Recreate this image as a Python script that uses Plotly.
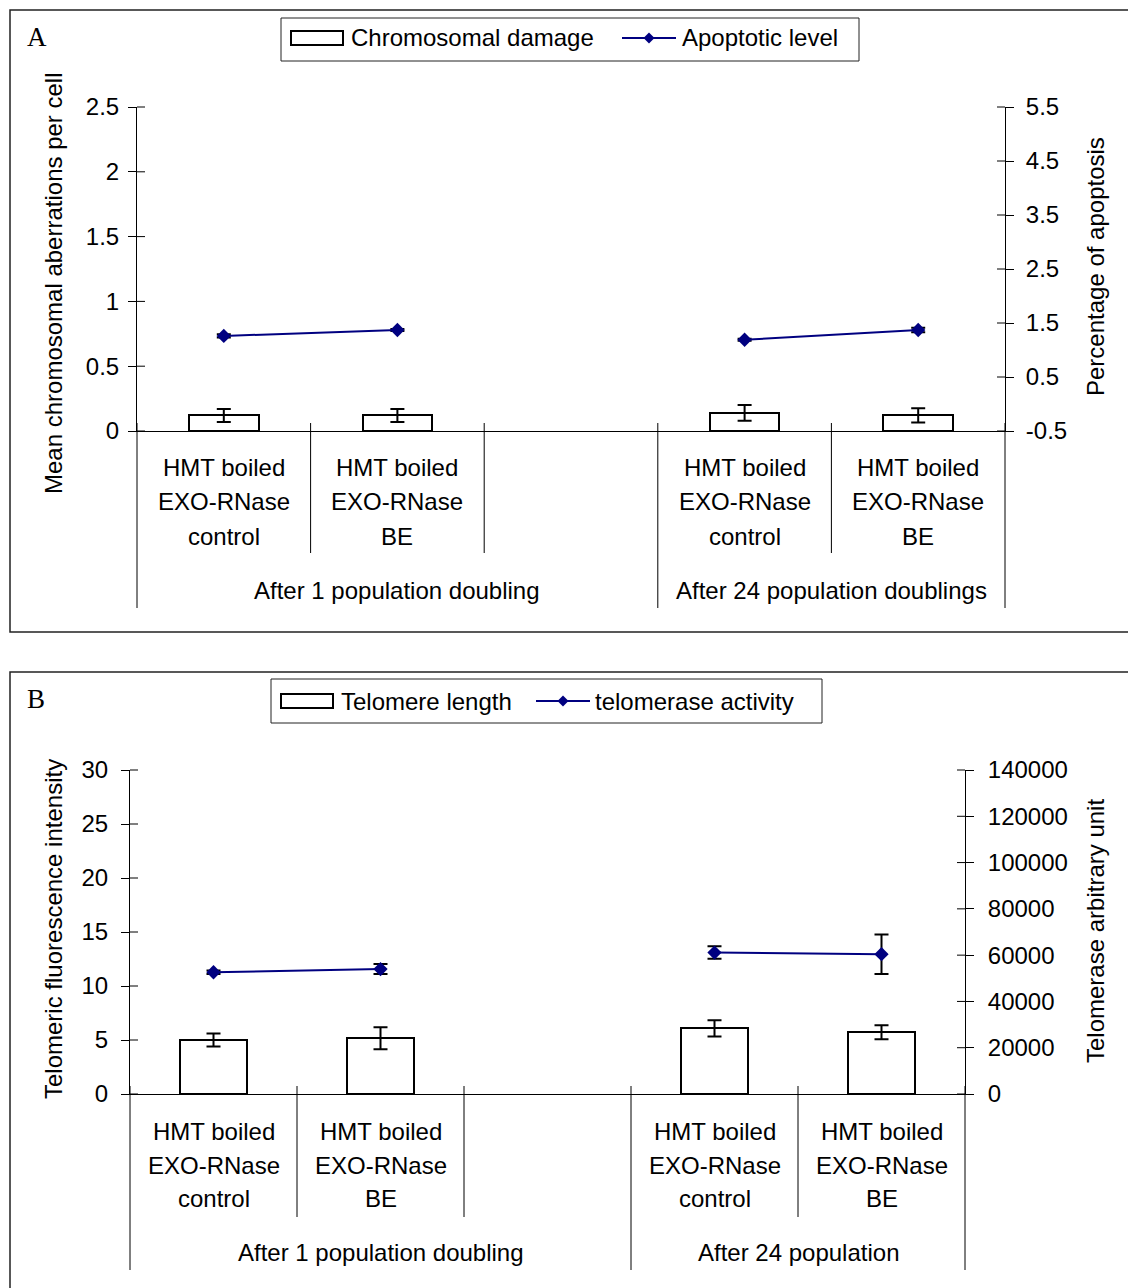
import plotly.graph_objects as go

W, H = 1128, 1288

# ---------------- Panel A: chromosomal damage / apoptosis ----------------
a_categories = [
    "HMT boiled\nEXO-RNase\ncontrol",
    "HMT boiled\nEXO-RNase\nBE",
    "",
    "HMT boiled\nEXO-RNase\ncontrol",
    "HMT boiled\nEXO-RNase\nBE",
]
a_groups = ["After 1 population doubling", "After 24 population doublings"]
a_group_first = [0, 3]
a_group_last = [2, 4]

a_damage = [0.12, 0.12, None, 0.14, 0.12]
a_damage_err = [0.05, 0.05, 0, 0.06, 0.055]
a_apoptosis = [1.26, 1.37, None, 1.19, 1.37]
a_apoptosis_err = [0.03, 0.02, 0, 0.02, 0.04]

a_left_ticks = [0, 0.5, 1, 1.5, 2, 2.5]
a_left_ticktext = ["0", "0.5", "1", "1.5", "2", "2.5"]
a_right_ticks = [-0.5, 0.5, 1.5, 2.5, 3.5, 4.5, 5.5]
a_right_ticktext = ["-0.5", "0.5", "1.5", "2.5", "3.5", "4.5", "5.5"]

# ---------------- Panel B: telomere length / telomerase ----------------
b_categories = list(a_categories)
b_groups = ["After 1 population doubling", "After 24 population"]
b_group_first = [0, 3]
b_group_last = [2, 4]

b_length = [5.0, 5.16, None, 6.08, 5.71]
b_length_err = [0.6, 1.02, 0, 0.75, 0.65]
b_activity = [52600, 54000, None, 61100, 60400]
b_activity_err = [800, 2200, 0, 2700, 8500]

b_left_ticks = [0, 5, 10, 15, 20, 25, 30]
b_left_ticktext = ["0", "5", "10", "15", "20", "25", "30"]
b_right_ticks = [0, 20000, 40000, 60000, 80000, 100000, 120000, 140000]
b_right_ticktext = ["0", "20000", "40000", "60000", "80000", "100000", "120000", "140000"]

FONT = "Arial"
FS = 24
NAVY = "#000080"


def xp(px):
    return px / W


def yp(py):
    return 1 - py / H


fig = go.Figure()
shapes = []
annotations = []


def add_panel(xa, ya_l, ya_r, cats, bars, bars_err, line, line_err,
              groups, g_first, g_last, lticks, lrange, rticks, rrange,
              row_offsets, group_offset, long_drop, short_drop):
    idx = list(range(len(cats)))
    fig.add_trace(go.Bar(
        x=idx, y=bars, width=0.4, xaxis=xa, yaxis=ya_l, showlegend=False,
        marker=dict(color="white", line=dict(color="black", width=2)),
        error_y=dict(type="data", array=bars_err, color="black", thickness=2, width=7),
    ))
    fig.add_trace(go.Scatter(
        x=idx, y=line, xaxis=xa, yaxis=ya_r, mode="lines+markers", showlegend=False,
        line=dict(color=NAVY, width=2),
        marker=dict(symbol="diamond", size=11, color=NAVY),
        error_y=dict(type="data", array=line_err, color="black", thickness=2, width=7),
        connectgaps=False,
    ))

    xlo, xhi = -0.5, len(cats) - 0.5
    xdom = xa + " domain"
    yldom = ya_l + " domain"
    yrdom = ya_r + " domain"

    # crossing tick halves on the inner side of both value axes
    for v in lticks:
        f = (v - lrange[0]) / (lrange[1] - lrange[0])
        shapes.append(dict(type="line", xref=xdom, yref=yldom, xsizemode="pixel",
                           xanchor=0, x0=0, x1=8, y0=f, y1=f,
                           line=dict(color="black", width=1)))
    for v in rticks:
        f = (v - rrange[0]) / (rrange[1] - rrange[0])
        shapes.append(dict(type="line", xref=xdom, yref=yrdom, xsizemode="pixel",
                           xanchor=1, x0=-8, x1=0, y0=f, y1=f,
                           line=dict(color="black", width=1)))

    # category boundaries: tick marks that continue down as label dividers
    edges = set()
    for a, b in zip(g_first, g_last):
        edges.add(a - 0.5)
        edges.add(b + 0.5)
    for k in range(len(cats) + 1):
        bnd = k - 0.5
        f = (bnd - xlo) / (xhi - xlo)
        drop = long_drop if bnd in edges else short_drop
        shapes.append(dict(type="line", xref=xdom, yref=yldom, ysizemode="pixel",
                           yanchor=0, y0=8, y1=-drop, x0=f, x1=f,
                           line=dict(color="black", width=1)))

    # category labels, one annotation per text row
    for i, c in enumerate(cats):
        if not c:
            continue
        for j, row in enumerate(c.split("\n")):
            annotations.append(dict(
                x=i, xref=xa, y=0, yref=yldom, yanchor="middle", xanchor="center",
                yshift=-row_offsets[j], text=row, showarrow=False,
                font=dict(family=FONT, size=FS, color="black")))

    # group labels
    for g, a, b in zip(groups, g_first, g_last):
        annotations.append(dict(
            x=(a + b) / 2, xref=xa, y=0, yref=yldom, yanchor="middle", xanchor="center",
            yshift=-group_offset, text=g, showarrow=False,
            font=dict(family=FONT, size=FS, color="black")))


add_panel("x", "y", "y2", a_categories, a_damage, a_damage_err, a_apoptosis,
          a_apoptosis_err, a_groups, a_group_first, a_group_last,
          a_left_ticks, [0, 2.5], a_right_ticks, [-0.5, 5.5],
          [37, 71, 105], 159, 177, 122)
add_panel("x2", "y3", "y4", b_categories, b_length, b_length_err, b_activity,
          b_activity_err, b_groups, b_group_first, b_group_last,
          b_left_ticks, [0, 30], b_right_ticks, [0, 140000],
          [37, 71, 104], 158, 176, 123)

axis_common = dict(showline=True, linecolor="black", linewidth=1, showgrid=False,
                   zeroline=False, ticks="outside", ticklen=8, tickcolor="black",
                   tickwidth=1, automargin=False,
                   tickfont=dict(family=FONT, size=FS, color="black"))
xaxis_common = dict(showline=True, linecolor="black", linewidth=1, showgrid=False,
                    zeroline=False, ticks="", showticklabels=False, automargin=False,
                    range=[-0.5, len(a_categories) - 0.5], fixedrange=True)

fig.update_layout(
    template="none",
    width=W, height=H, autosize=False,
    margin=dict(l=0, r=0, t=0, b=0, pad=0),
    paper_bgcolor="white", plot_bgcolor="white",
    showlegend=False,
    bargap=0,
    xaxis=dict(domain=[xp(137), xp(1005)], anchor="y", **xaxis_common),
    yaxis=dict(domain=[yp(431), yp(107)], anchor="x", range=[0, 2.5],
               tickvals=a_left_ticks, ticktext=a_left_ticktext,
               ticklabelstandoff=4, **axis_common),
    yaxis2=dict(overlaying="y", side="right", anchor="x", range=[-0.5, 5.5],
                tickvals=a_right_ticks, ticktext=a_right_ticktext,
                ticklabelstandoff=7, **axis_common),
    xaxis2=dict(domain=[xp(130), xp(965)], anchor="y3", **xaxis_common),
    yaxis3=dict(domain=[yp(1094), yp(770)], anchor="x2", range=[0, 30],
                tickvals=b_left_ticks, ticktext=b_left_ticktext,
                ticklabelstandoff=8, **axis_common),
    yaxis4=dict(overlaying="y3", side="right", anchor="x2", range=[0, 140000],
                tickvals=b_right_ticks, ticktext=b_right_ticktext,
                ticklabelstandoff=9, **axis_common),
)

# panel frames
shapes.append(dict(type="rect", xref="paper", yref="paper", x0=xp(10), x1=xp(1140),
                   y0=yp(632), y1=yp(10), line=dict(color="#222", width=1.5)))
shapes.append(dict(type="rect", xref="paper", yref="paper", x0=xp(10), x1=xp(1140),
                   y0=yp(1300), y1=yp(672), line=dict(color="#222", width=1.5)))

# axis titles
titles = [
    ("Mean chromosomal aberrations per cell", 53, 283),
    ("Percentage of apoptosis", 1095, 267),
    ("Telomeric fluorescence intensity", 53, 929),
    ("Telomerase arbitrary unit", 1095, 931),
]
for t, px, py in titles:
    annotations.append(dict(x=xp(px), y=yp(py), xref="paper", yref="paper",
                            text=t, textangle=-90, showarrow=False,
                            xanchor="center", yanchor="middle",
                            font=dict(family=FONT, size=FS, color="black")))

# panel letters
for t, px, py in [("A", 37, 37), ("B", 36, 699)]:
    annotations.append(dict(x=xp(px), y=yp(py), xref="paper", yref="paper",
                            text=t, showarrow=False, xanchor="center", yanchor="middle",
                            font=dict(family="Liberation Serif", size=27, color="black")))


# legends: framed key with an open bar swatch and a line-with-diamond swatch
def add_key(box, bar_sw, bar_label, bar_text_x, line_sw, line_label, line_text_x, cy):
    bx0, by0, bx1, by1 = box
    shapes.append(dict(type="rect", xref="paper", yref="paper", x0=xp(bx0), x1=xp(bx1),
                       y0=yp(by1), y1=yp(by0), line=dict(color="#222", width=1)))
    sx0, sy0, sx1, sy1 = bar_sw
    shapes.append(dict(type="rect", xref="paper", yref="paper", x0=xp(sx0), x1=xp(sx1),
                       y0=yp(sy1), y1=yp(sy0), line=dict(color="black", width=2),
                       fillcolor="white"))
    lx0, lx1 = line_sw
    shapes.append(dict(type="line", xref="paper", yref="paper", x0=xp(lx0), x1=xp(lx1),
                       y0=yp(cy), y1=yp(cy), line=dict(color=NAVY, width=2)))
    shapes.append(dict(type="path", xref="paper", yref="paper", xsizemode="pixel",
                       ysizemode="pixel", xanchor=xp((lx0 + lx1) / 2), yanchor=yp(cy),
                       path="M -5.5 0 L 0 5.5 L 5.5 0 L 0 -5.5 Z",
                       fillcolor=NAVY, line=dict(color=NAVY, width=0)))
    for t, tx in [(bar_label, bar_text_x), (line_label, line_text_x)]:
        annotations.append(dict(x=xp(tx), y=yp(cy), xref="paper", yref="paper",
                                text=t, showarrow=False, xanchor="left", yanchor="middle",
                                font=dict(family=FONT, size=FS, color="black")))


add_key((281, 18, 859, 61), (291, 31, 343, 45), "Chromosomal damage", 349,
        (622, 676), "Apoptotic level", 680, 38)
add_key((271, 679, 822, 723), (281, 694, 333, 708), "Telomere length", 339,
        (536, 590), "telomerase activity", 593, 701)

fig.update_layout(shapes=shapes, annotations=annotations)

fig.write_html("out.html")
